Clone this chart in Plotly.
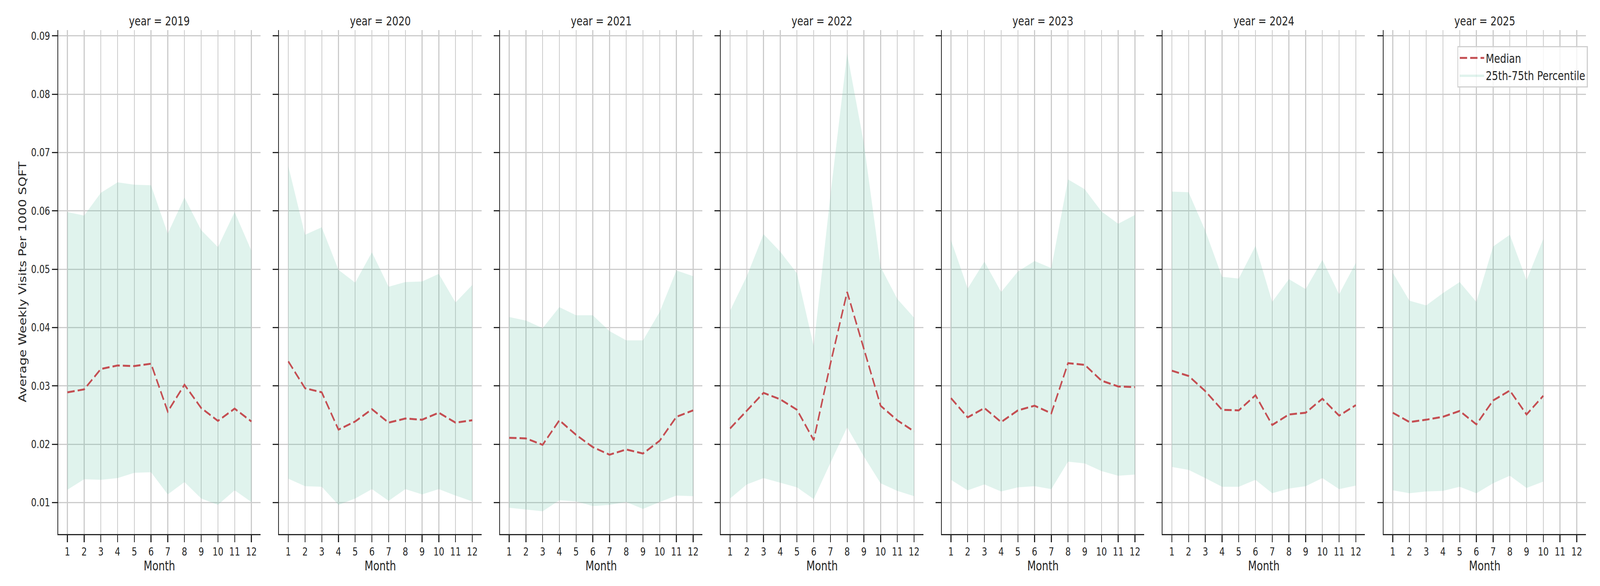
import plotly.graph_objects as go

# data
months = [1, 2, 3, 4, 5, 6, 7, 8, 9, 10, 11, 12]
years = [2019, 2020, 2021, 2022, 2023, 2024, 2025]

median_2019 = [0.0289, 0.0294, 0.0329, 0.0335, 0.0334, 0.0338, 0.0256, 0.0302, 0.0262, 0.0240, 0.0261, 0.0239]
p25_2019 = [0.0122, 0.0140, 0.0139, 0.0142, 0.0151, 0.0152, 0.0114, 0.0135, 0.0107, 0.0096, 0.0121, 0.0101]
p75_2019 = [0.0598, 0.0592, 0.0631, 0.0649, 0.0645, 0.0644, 0.0561, 0.0623, 0.0567, 0.0538, 0.0598, 0.0532]

median_2020 = [0.0342, 0.0296, 0.0289, 0.0225, 0.0239, 0.0260, 0.0237, 0.0244, 0.0242, 0.0254, 0.0237, 0.0241]
p25_2020 = [0.0141, 0.0128, 0.0127, 0.0096, 0.0107, 0.0123, 0.0103, 0.0123, 0.0114, 0.0123, 0.0112, 0.0102]
p75_2020 = [0.0677, 0.0559, 0.0572, 0.0499, 0.0477, 0.0529, 0.0470, 0.0478, 0.0479, 0.0492, 0.0443, 0.0473]

median_2021 = [0.0211, 0.0210, 0.0199, 0.0241, 0.0216, 0.0195, 0.0182, 0.0191, 0.0184, 0.0206, 0.0247, 0.0258]
p25_2021 = [0.0091, 0.0088, 0.0085, 0.0104, 0.0102, 0.0094, 0.0096, 0.0101, 0.0089, 0.0101, 0.0112, 0.0111]
p75_2021 = [0.0418, 0.0412, 0.0399, 0.0435, 0.0421, 0.0421, 0.0394, 0.0378, 0.0378, 0.0427, 0.0498, 0.0488]

median_2022 = [0.0227, 0.0258, 0.0288, 0.0277, 0.0259, 0.0207, 0.0338, 0.0461, 0.0363, 0.0266, 0.0241, 0.0222]
p25_2022 = [0.0107, 0.0131, 0.0142, 0.0134, 0.0126, 0.0106, 0.0168, 0.0229, 0.0179, 0.0133, 0.0120, 0.0111]
p75_2022 = [0.0429, 0.0488, 0.0560, 0.0530, 0.0493, 0.0368, 0.0627, 0.0870, 0.0716, 0.0504, 0.0449, 0.0417]

median_2023 = [0.0279, 0.0246, 0.0262, 0.0238, 0.0258, 0.0266, 0.0253, 0.0339, 0.0336, 0.0309, 0.0299, 0.0298]
p25_2023 = [0.0139, 0.0121, 0.0131, 0.0119, 0.0126, 0.0128, 0.0123, 0.0170, 0.0167, 0.0154, 0.0146, 0.0148]
p75_2023 = [0.0550, 0.0467, 0.0513, 0.0461, 0.0496, 0.0514, 0.0502, 0.0654, 0.0637, 0.0599, 0.0578, 0.0593]

median_2024 = [0.0326, 0.0317, 0.0291, 0.0259, 0.0258, 0.0284, 0.0233, 0.0251, 0.0254, 0.0278, 0.0249, 0.0267]
p25_2024 = [0.0161, 0.0156, 0.0142, 0.0127, 0.0127, 0.0139, 0.0116, 0.0124, 0.0128, 0.0142, 0.0123, 0.0129]
p75_2024 = [0.0633, 0.0632, 0.0566, 0.0487, 0.0484, 0.0540, 0.0444, 0.0483, 0.0466, 0.0516, 0.0457, 0.0511]

median_2025 = [0.0254, 0.0238, 0.0242, 0.0247, 0.0257, 0.0234, 0.0275, 0.0292, 0.0251, 0.0283]
p25_2025 = [0.0121, 0.0116, 0.0119, 0.0120, 0.0127, 0.0116, 0.0133, 0.0146, 0.0125, 0.0136]
p75_2025 = [0.0494, 0.0446, 0.0438, 0.0459, 0.0478, 0.0444, 0.0539, 0.0559, 0.0481, 0.0552]

y_ticks = [0.01, 0.02, 0.03, 0.04, 0.05, 0.06, 0.07, 0.08, 0.09]

medians = [median_2019, median_2020, median_2021, median_2022, median_2023, median_2024, median_2025]
lows = [p25_2019, p25_2020, p25_2021, p25_2022, p25_2023, p25_2024, p25_2025]
highs = [p75_2019, p75_2020, p75_2021, p75_2022, p75_2023, p75_2024, p75_2025]

W, H = 5250, 1500
FONT = "DejaVu Sans"
TXT = "#262626"
RED = "#c44e52"
FILL = "rgba(102,194,165,0.2)"

panel_left = 191
panel_step = 724.8
panel_w = 664
y_dom = [(H - 1367) / H, (H - 77) / H]

fig = go.Figure()

for i, yr in enumerate(years):
    xa = "x" if i == 0 else f"x{i + 1}"
    ya = "y" if i == 0 else f"y{i + 1}"
    m = months[:len(medians[i])]
    last = i == len(years) - 1

    fig.add_trace(go.Scatter(x=m, y=lows[i], mode="lines", line=dict(width=0, color=FILL),
                             xaxis=xa, yaxis=ya, showlegend=False, hoverinfo="skip"))
    fig.add_trace(go.Scatter(x=m, y=highs[i], mode="lines", line=dict(width=0, color=FILL),
                             fill="tonexty", fillcolor=FILL, name="25th-75th Percentile",
                             xaxis=xa, yaxis=ya, showlegend=last, legendrank=2))
    fig.add_trace(go.Scatter(x=m, y=medians[i], mode="lines",
                             line=dict(color=RED, width=5, dash="24px,10px"), name="Median",
                             xaxis=xa, yaxis=ya, showlegend=last, legendrank=1))

    x0 = (panel_left + i * panel_step) / W
    x1 = (panel_left + i * panel_step + panel_w) / W
    suffix = "" if i == 0 else str(i + 1)

    fig.layout["xaxis" + suffix] = dict(
        domain=[x0, x1], range=[0.45, 12.55], anchor=ya,
        tickmode="array", tickvals=months, ticktext=[str(v) for v in months],
        showgrid=True, gridcolor="#cccccc", gridwidth=2.5, zeroline=False,
        showline=True, linecolor=TXT, linewidth=3,
        ticks="outside", ticklen=18, tickwidth=3, tickcolor=TXT,
        tickfont=dict(size=28, color=TXT, family=FONT),
        title=dict(text="Month", font=dict(size=33, color=TXT, family=FONT), standoff=4),
    )
    fig.layout["yaxis" + suffix] = dict(
        domain=y_dom, range=[0.0046, 0.091], anchor=xa,
        tickmode="array", tickvals=y_ticks, ticktext=[f"{v:.2f}" for v in y_ticks],
        showticklabels=(i == 0),
        showgrid=True, gridcolor="#cccccc", gridwidth=2.5, zeroline=False,
        showline=True, linecolor=TXT, linewidth=3,
        ticks="outside", ticklen=18, tickwidth=3, tickcolor=TXT,
        tickfont=dict(size=28, color=TXT, family=FONT),
    )

    fig.add_annotation(text=f"year = {yr}", xref="paper", yref="paper",
                       x=(x0 + x1) / 2, y=1 - 54 / H, xanchor="center", yanchor="middle",
                       showarrow=False, font=dict(size=32, color=TXT, family=FONT))

fig.add_annotation(text="Average Weekly Visits Per 1000 SQFT", xref="paper", yref="paper",
                   x=74 / W, y=sum(y_dom) / 2, textangle=-90, xanchor="center", yanchor="middle",
                   showarrow=False, font=dict(size=33, color=TXT, family=FONT))

fig.update_layout(
    width=W, height=H,
    margin=dict(l=0, r=0, t=0, b=0),
    paper_bgcolor="white", plot_bgcolor="white",
    font=dict(family=FONT, color=TXT),
    legend=dict(x=5210 / W, y=1 - 118 / H, xanchor="right", yanchor="top",
                traceorder="normal", itemwidth=80,
                bgcolor="rgba(255,255,255,0.8)", bordercolor="#d0d0d0", borderwidth=3,
                font=dict(size=32, color=TXT, family=FONT), tracegroupgap=4),
)

# the window we get can be narrower than the figure: stretch the page to fill it
fit_js = """
var gd = document.getElementById('{plot_id}');
document.body.style.margin = '0';
document.documentElement.style.overflow = 'hidden';
var sx = Math.min(window.innerWidth / 5250, 1);
var sy = Math.min(window.innerHeight / 1500, 1);
gd.style.transformOrigin = '0 0';
gd.style.transform = 'scale(' + sx + ',' + sy + ')';
"""

fig.write_html("out.html", post_script=fit_js, config={"displayModeBar": False})
